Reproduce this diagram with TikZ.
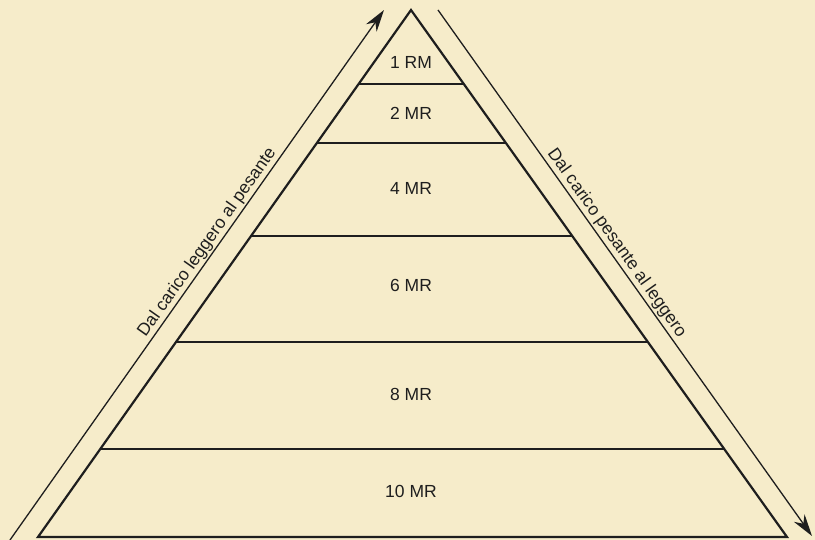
\documentclass[tikz,border=0pt]{standalone}
\usepackage{fontspec}
\setmainfont{Liberation Sans}
\usetikzlibrary{calc,arrows.meta}
\definecolor{paper}{RGB}{246,236,202}
\definecolor{ink}{RGB}{30,30,30}
\tikzset{
  tri/.style={draw=ink,line width=2.2pt,line join=miter},
  band/.style={draw=ink,line width=1.4pt},
  lvl/.style={font=\fontsize{17.5}{20}\selectfont,text=ink},
  flow/.style={draw=ink,line width=1.3pt,-{Stealth[length=22pt,width=13pt,inset=7pt]}},
  flowtxt/.style={font=\fontsize{17.5}{20}\selectfont,text=ink,sloped,above,inner sep=1.5pt}
}
\begin{document}
\begin{tikzpicture}[x=1pt,y=-1pt]
\fill[paper] (0,0) rectangle (815,540);
\useasboundingbox (0,0) rectangle (815,540);
\coordinate (apex) at (411,10);
\coordinate (bl) at (38,537);
\coordinate (br) at (787,537);
\draw[tri] (bl) -- (apex) -- (br) -- cycle;
% bands
\foreach \n/\y in {a/84,b/143,c/236,d/342,e/449}{
  \pgfmathsetmacro{\t}{(\y-10)/527}
  \coordinate (L\n) at ($(apex)!\t!(bl)$);
  \coordinate (R\n) at ($(apex)!\t!(br)$);
  \draw[band] (L\n) -- (R\n);
}
\node[lvl] (l1) at (411,62) {1 RM};
\node[lvl] (l2) at (411,113) {2 MR};
\node[lvl] (l4) at (411,188) {4 MR};
\node[lvl] (l6) at (411,285) {6 MR};
\node[lvl] (l8) at (411,394) {8 MR};
\node[lvl] (l10) at (411,491) {10 MR};
% arrows
\coordinate (la0) at (10,540);
\coordinate (la1) at (384,10);
\coordinate (ra0) at (438,10);
\coordinate (ra1) at (812,536);
\draw[flow] (la0) -- node[flowtxt,pos=0.55] (lt) {Dal carico leggero al pesante} (la1);
\draw[flow] (ra0) -- node[flowtxt,pos=0.455] (rt) {Dal carico pesante al leggero} (ra1);
\end{tikzpicture}
\end{document}
